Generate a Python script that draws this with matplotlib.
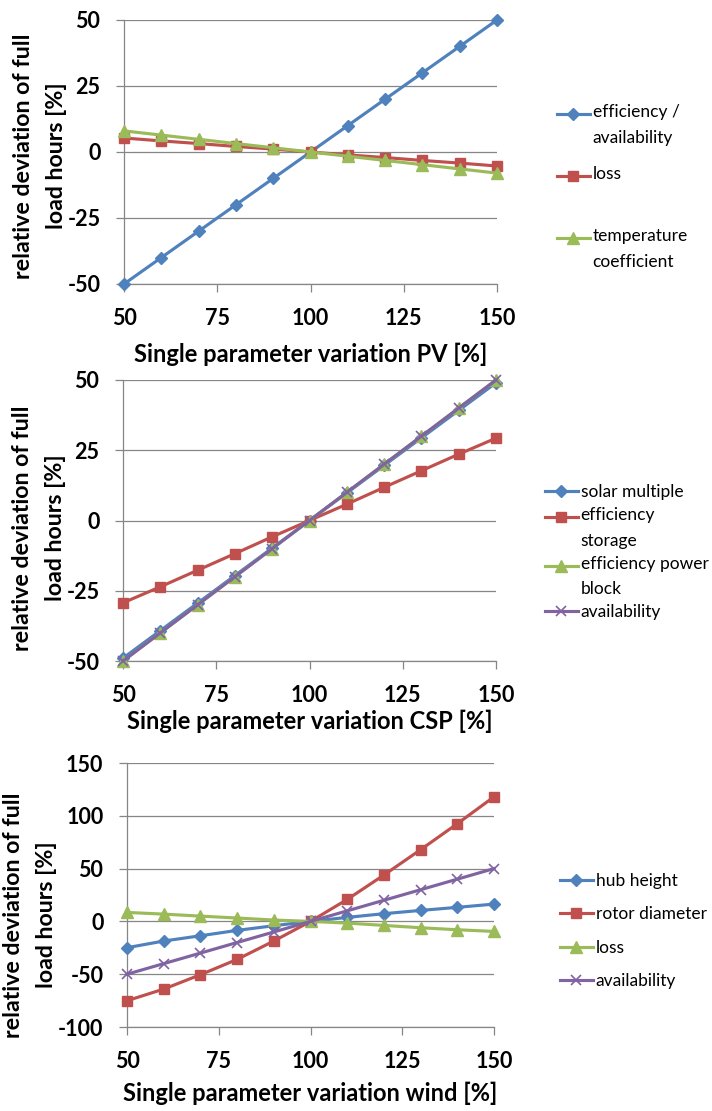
import numpy as np
import matplotlib
matplotlib.use("Agg")
import matplotlib.pyplot as plt
from matplotlib.legend_handler import HandlerLine2D

plt.rcParams['font.family'] = ['Lato', 'DejaVu Sans']
plt.rcParams['axes.unicode_minus'] = False

# parameter variation in percent of the reference value
x_pct = [50, 60, 70, 80, 90, 100, 110, 120, 130, 140, 150]

# PV
pv_labels = ["efficiency /\navailability", "loss\n", "temperature\ncoefficient"]
pv_efficiency = [-50, -40, -30, -20, -10, 0, 10, 20, 30, 40, 50]
pv_loss = [5.3, 4.2, 3.2, 2.1, 1.1, 0, -1.1, -2.1, -3.2, -4.2, -5.3]
pv_temp = [8.0, 6.4, 4.8, 3.2, 1.6, 0, -1.6, -3.2, -4.8, -6.4, -8.0]

# CSP
csp_labels = ["solar multiple", "efficiency\nstorage", "efficiency power\nblock", "availability"]
csp_solar = [-49, -39.2, -29.4, -19.6, -9.8, 0, 9.8, 19.6, 29.4, 39.2, 49]
csp_storage = [-29.3, -23.6, -17.7, -11.8, -5.8, 0, 5.8, 11.8, 17.7, 23.6, 29.3]
csp_power = [-50, -40, -30, -20, -10, 0, 10, 20, 30, 40, 50]
csp_avail = [-50, -40, -30, -20, -10, 0, 10, 20, 30, 40, 50]

# wind
wind_labels = ["hub height", "rotor diameter", "loss", "availability"]
wind_hub = [-24.9, -18.6, -13.6, -8.5, -4.1, 0, 3.8, 7.3, 10.4, 13.3, 16.4]
wind_rotor = [-75.1, -64.1, -50.5, -36.0, -18.6, 0, 20.8, 43.9, 67.9, 92.5, 118.0]
wind_loss = [8.5, 6.9, 5.0, 3.2, 1.3, 0, -1.6, -3.8, -6.0, -7.9, -9.5]
wind_avail = [-50, -40, -30, -20, -10, 0, 10, 20, 30, 40, 50]

BLUE, RED, GREEN, PURPLE = "#4F81BD", "#C0504D", "#9BBB59", "#8064A2"
GRID = "#868686"
styles = [
    dict(color=BLUE, marker="D", ms=6),
    dict(color=RED, marker="s", ms=7.5),
    dict(color=GREEN, marker="^", ms=8.5),
    dict(color=PURPLE, marker="x", ms=7, mew=1.2),
]

TICK_FS = 15.5
TITLE_FS = 17
LEG_FS = 12.5
LEG_LINESP = 1.75
LINE_PITCH = 22.5 * 72 / 100  # points between legend text lines


class FirstLineHandler(HandlerLine2D):
    # put the legend key next to the first line of a multi-line label
    def create_artists(self, legend, orig_handle, xdescent, ydescent,
                       width, height, fontsize, trans):
        arts = super().create_artists(legend, orig_handle, xdescent, ydescent,
                                      width, height, fontsize, trans)
        extra = orig_handle.get_label().count("\n")
        for a in arts:
            a.set_ydata(np.asarray(a.get_ydata(), float) + extra * LINE_PITCH / 2)
        return arts


def draw_panel(ax, series, labels, ylim, yticks, xlabel, xlabelpad, ylab_xy,
               leg_xy, leg_spacing):
    for vals, lab, st in zip(series, labels, styles):
        ax.plot(x_pct, vals, lw=2.25, label=lab, clip_on=False, zorder=3,
                mec=st["color"], **st)
    ax.set_xlim(50, 150)
    ax.set_ylim(*ylim)
    ax.set_xticks([50, 75, 100, 125, 150])
    ax.set_yticks(yticks)
    ax.grid(axis="y", color=GRID, lw=0.9)
    ax.set_axisbelow(True)
    for s in ["top", "right"]:
        ax.spines[s].set_visible(False)
    for s in ["left", "bottom"]:
        ax.spines[s].set_color(GRID)
        ax.spines[s].set_linewidth(0.9)
    ax.tick_params(direction="out", length=6, width=0.9, color=GRID,
                   labelsize=TICK_FS, pad=11)
    for t in ax.get_xticklabels() + ax.get_yticklabels():
        t.set_fontweight("bold")
    ax.set_xlabel(xlabel, fontsize=TITLE_FS, fontweight="bold", labelpad=xlabelpad)
    ax.set_ylabel("relative deviation of full\nload hours [%]", fontsize=16.7,
                  fontweight="bold", linespacing=1.7)
    ax.yaxis.set_label_coords(*ylab_xy)
    leg = ax.legend(loc="upper left", bbox_to_anchor=leg_xy,
                    bbox_transform=fig.transFigure, frameon=False, borderpad=0,
                    borderaxespad=0, handlelength=1.9, handletextpad=0.15,
                    labelspacing=leg_spacing, fontsize=LEG_FS,
                    handler_map={matplotlib.lines.Line2D: FirstLineHandler()})
    for t in leg.get_texts():
        t.set_linespacing(LEG_LINESP)


W, H = 712, 1111
fig = plt.figure(figsize=(W / 100, H / 100), dpi=100)


def add_axes(left, top, right, bottom):
    return fig.add_axes([left / W, 1 - bottom / H, (right - left) / W, (bottom - top) / H])


ax1 = add_axes(124, 20, 497, 284)
ax2 = add_axes(123, 380, 496, 661)
ax3 = add_axes(127, 763, 494, 1027)

draw_panel(ax1, [pv_efficiency, pv_loss, pv_temp], pv_labels, (-50, 50),
           [-50, -25, 0, 25, 50], "Single parameter variation PV [%]", 10,
           (-0.152, 0.485), (557 / W, 1 - 104 / H), 1.17)
draw_panel(ax2, [csp_solar, csp_storage, csp_power, csp_avail], csp_labels,
           (-50, 50), [-50, -25, 0, 25, 50], "Single parameter variation CSP [%]", 3,
           (-0.152, 0.473), (545 / W, 1 - 484 / H), 0.4)
draw_panel(ax3, [wind_hub, wind_rotor, wind_loss, wind_avail], wind_labels,
           (-100, 150), [-100, -50, 0, 50, 100, 150],
           "Single parameter variation wind [%]", 7,
           (-0.19, 0.425), (560 / W, 1 - 873 / H), 1.0)

fig.savefig("out.png", dpi=100)
